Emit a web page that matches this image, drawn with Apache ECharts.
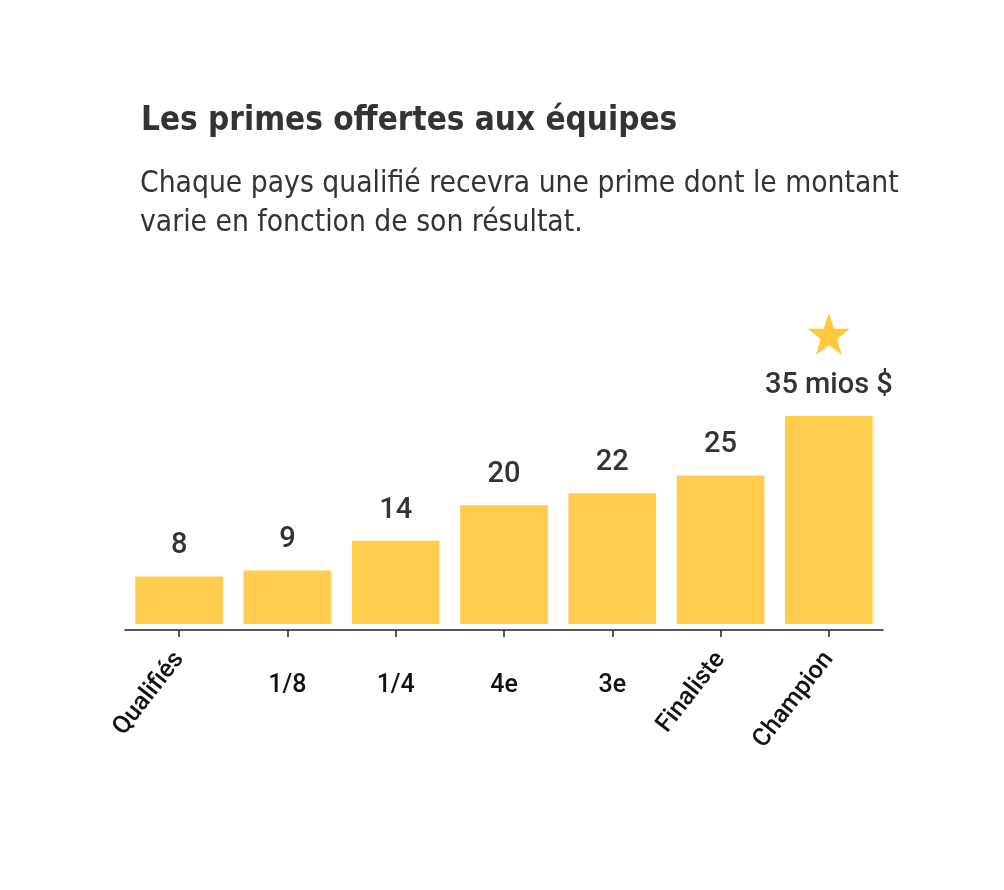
<!DOCTYPE html>
<html>
<head>
<meta charset="utf-8">
<script src="https://cdn.jsdelivr.net/npm/echarts@6/dist/echarts.min.js"></script>
<style>
  html, body { margin: 0; padding: 0; background: #fff; }
  #chart { width: 1004px; height: 890px; }
</style>
</head>
<body>
<div id="chart"></div>
<script>
// données : primes par résultat (millions $)
var categories = ['Qualifiés', '1/8', '1/4', '4e', '3e', 'Finaliste', 'Champion'];
var primes = [8, 9, 14, 20, 22, 25, 35];
var rotatedLabels = ['Qualifiés', 'Finaliste', 'Champion'];

var condensed = '"DejaVu Sans Condensed", "Liberation Sans Narrow", Roboto, sans-serif';
var starPath = 'path://M50,2 L61.5,36 L97,36 L68.5,57.5 L79,92 L50,71 L21,92 L31.5,57.5 L3,36 L38.5,36 Z';

var chart = echarts.init(document.getElementById('chart'));

var option = {
    backgroundColor: '#fff',
    animation: false,
    title: [
        {
            text: 'Les primes offertes aux équipes',
            left: 136, top: 100,
            textStyle: { fontFamily: condensed, fontSize: 33, fontWeight: 'bold', color: '#333' }
        },
        {
            text: 'Chaque pays qualifié recevra une prime dont le montant\nvarie en fonction de son résultat.',
            left: 135, top: 160,
            textStyle: { fontFamily: condensed, fontSize: 29.7, fontWeight: 'normal', color: '#333', lineHeight: 39 }
        }
    ],
    grid: { left: 125, right: 121, top: 416, bottom: 260 },
    xAxis: [
        {
            type: 'category',
            data: categories,
            axisLine: { show: true, onZero: false, lineStyle: { color: '#222', width: 1.5 } },
            axisTick: { show: true, alignWithLabel: true, interval: 0, length: 7, lineStyle: { color: '#222', width: 1.5 } },
            axisLabel: {
                interval: 0, margin: 43, color: '#111',
                fontSize: 25, fontFamily: 'Roboto', fontWeight: 500,
                formatter: function (v) { return rotatedLabels.indexOf(v) >= 0 ? '' : v; }
            }
        },
        {
            type: 'category',
            data: categories,
            position: 'bottom',
            axisLine: { show: false },
            axisTick: { show: false },
            axisLabel: {
                interval: 0, margin: 25, rotate: 52, color: '#111',
                fontSize: 25, fontFamily: 'Roboto', fontWeight: 500,
                formatter: function (v) { return rotatedLabels.indexOf(v) >= 0 ? v : ''; }
            }
        }
    ],
    yAxis: {
        type: 'value', min: -1, max: 35,
        show: false,
        splitLine: { show: false }
    },
    series: [
        {
            type: 'bar',
            data: primes,
            barCategoryGap: '19%',
            itemStyle: { color: '#FFCD4E' },
            label: {
                show: true, position: 'top', distance: 16,
                color: '#333', fontSize: 29, fontFamily: 'Roboto', fontWeight: 500,
                formatter: function (p) {
                    return p.dataIndex === primes.length - 1 ? p.value + ' mios $' : p.value;
                }
            },
            markPoint: {
                symbol: starPath,
                symbolSize: 42,
                symbolOffset: [0, -82],
                itemStyle: { color: '#FFC83D' },
                label: { show: false },
                data: [{ coord: [categories.length - 1, primes[primes.length - 1]] }]
            }
        }
    ]
};

chart.setOption(option);
</script>
</body>
</html>
